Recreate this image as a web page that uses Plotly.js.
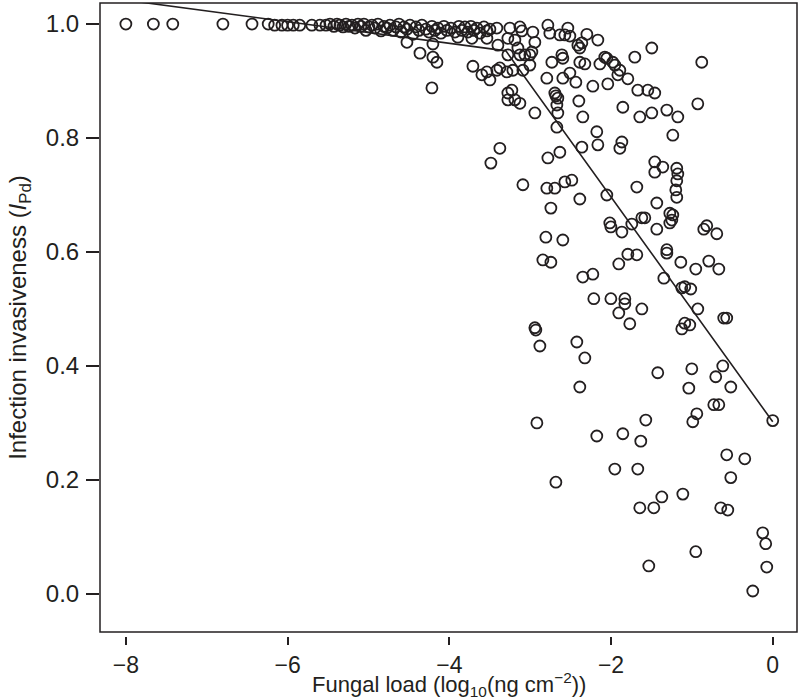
<!DOCTYPE html>
<html>
<head>
<meta charset="utf-8">
<script src="https://cdn.plot.ly/plotly-3.0.1.min.js"></script>
<style>
  body { margin: 0; background: white; }
  #the_plot { width: 800px; height: 700px; }
</style>
</head>
<body>
<div id="the_plot"></div>
<script>
window.addEventListener("load", setup);

// Fungal load (log10 ng cm-2) and invasiveness
var fungalLoad = [
  -8.00, -7.66, -7.42, -6.80, -6.44, -6.24, -6.16, -6.07, -6.00, -5.93, -5.85, -5.70, -5.60,
  -5.525, -5.476, -5.427, -5.389, -5.352, -5.315, -5.278, -5.241, -5.204, -5.167, -5.130, -5.093,
  -5.056, -5.031, -4.994, -4.957, -4.920, -4.883, -4.845, -4.808, -4.771, -4.734, -4.697, -4.660,
  -4.623, -4.598, -4.561, -4.524, -4.487, -4.450, -4.413, -4.376, -4.339, -4.290, -4.252, -4.215,
  -4.178, -4.141, -4.104, -4.067, -4.030, -3.980, -3.931, -3.881, -3.844, -3.807, -3.770, -3.733,
  -3.696, -3.659, -3.622, -3.572, -3.535, -3.498,
  -4.524, -4.363, -4.203, -4.203, -4.153, -4.215, -3.894, -3.721, -3.535, -3.399, -3.708, -3.597,
  -3.535, -3.498, -3.412, -3.375, -3.288, -3.214, -3.090, -3.276, -3.226, -3.276, -3.189, -3.127,
  -2.942,
  -3.412, -3.251, -3.127, -3.103, -3.276, -3.189, -3.152, -3.276, -3.127, -3.066, -3.004, -2.967,
  -2.942, -2.979, -3.004, -2.781, -2.757, -2.633, -2.571, -2.534, -2.509, -2.410, -2.386, -2.361,
  -2.299, -2.163, -2.732, -2.608, -2.596, -2.386, -2.324, -2.138, -2.077, -2.052, -1.978, -1.953,
  -1.891, -1.916, -1.792, -1.706, -1.496, -2.794, -2.596, -2.509, -2.435, -2.225, -2.040, -2.695,
  -2.682, -2.658, -2.670, -2.398, -1.854, -1.669, -1.545, -1.459, -2.658, -2.349, -1.644, -1.496,
  -1.310, -1.174, -0.927, -0.878, -2.670, -1.236, -2.176, -2.163, -2.361, -1.866, -1.891, -3.375,
  -3.486, -2.633, -2.781, -1.459, -1.360, -1.459, -1.187, -1.174, -1.187, -1.199, -1.187, -3.090,
  -2.794, -2.695, -2.571, -2.485, -1.681, -2.052, -2.386, -1.434, -2.744, -1.273, -1.236, -1.248,
  -1.273, -2.015, -2.002, -1.743, -1.619, -1.582, -1.866, -1.434, -0.853, -0.816, -0.692, -2.806,
  -2.596, -1.310, -1.310, -1.792, -1.681, -1.904, -1.137, -0.952, -0.791, -0.667, -2.843, -2.744,
  -2.349, -2.225, -1.347, -1.125, -1.088, -1.014, -2.213, -2.002, -1.829, -1.829, -1.904, -1.619,
  -0.927, -1.768, -0.606, -0.569, -1.088, -1.026, -1.125, -2.942, -2.930, -2.880, -2.423, -2.324,
  -1.422, -1.001, -0.618, -0.705, -2.386, -1.038, -0.519, -0.729, -0.667, -0.939, -0.989, 0.000,
  -2.917, -2.176, -1.854, -1.632, -1.570, -1.953, -1.669, -2.682, -0.569, -0.346, -0.519, -1.112,
  -1.372, -1.471, -1.644, -0.643, -0.556, -0.124, -0.087, -0.952, -1.533, -0.074, -0.247
];
var invasiveness = [
  1.000, 1.000, 1.000, 1.000, 1.000, 1.000, 0.998, 0.998, 0.998, 0.998, 0.998, 0.998, 0.998,
  0.998, 1.000, 0.996, 1.000, 0.998, 0.995, 1.000, 0.996, 0.998, 0.993, 1.000, 0.996,
  1.000, 0.989, 0.995, 0.998, 0.993, 1.000, 0.988, 0.996, 0.993, 0.998, 0.989, 0.995,
  1.000, 0.986, 0.995, 0.991, 0.998, 0.982, 0.995, 0.989, 0.998, 0.991, 0.986, 0.996,
  0.989, 0.993, 0.984, 0.996, 0.989, 0.993, 0.986, 0.996, 0.989, 0.995, 0.986, 0.996,
  0.989, 0.993, 0.984, 0.995, 0.988, 0.991,
  0.968, 0.949, 0.965, 0.942, 0.933, 0.888, 0.977, 0.975, 0.975, 0.963, 0.926, 0.911,
  0.916, 0.902, 0.919, 0.923, 0.916, 0.919, 0.919, 0.879, 0.884, 0.867, 0.867, 0.861,
  0.844,
  0.993, 0.993, 0.995, 0.988, 0.975, 0.972, 0.958, 0.946, 0.946, 0.946, 0.946, 0.986,
  0.968, 0.951, 0.928, 0.998, 0.984, 0.981, 0.981, 0.993, 0.979, 0.963, 0.958, 0.967,
  0.982, 0.972, 0.933, 0.946, 0.940, 0.933, 0.930, 0.930, 0.942, 0.940, 0.933, 0.928,
  0.919, 0.911, 0.904, 0.942, 0.958, 0.905, 0.905, 0.914, 0.898, 0.891, 0.895, 0.879,
  0.874, 0.870, 0.858, 0.865, 0.854, 0.884, 0.884, 0.879, 0.844, 0.837, 0.837, 0.844,
  0.849, 0.837, 0.860, 0.933, 0.819, 0.805, 0.811, 0.788, 0.784, 0.793, 0.782, 0.782,
  0.756, 0.775, 0.765, 0.758, 0.749, 0.740, 0.747, 0.737, 0.725, 0.709, 0.696, 0.718,
  0.712, 0.712, 0.723, 0.726, 0.714, 0.700, 0.693, 0.686, 0.677, 0.668, 0.665, 0.656,
  0.651, 0.651, 0.644, 0.649, 0.660, 0.660, 0.635, 0.640, 0.640, 0.646, 0.632, 0.626,
  0.621, 0.604, 0.598, 0.596, 0.595, 0.579, 0.582, 0.570, 0.584, 0.570, 0.586, 0.582,
  0.556, 0.561, 0.554, 0.537, 0.539, 0.535, 0.518, 0.518, 0.518, 0.509, 0.493, 0.500,
  0.500, 0.474, 0.484, 0.484, 0.475, 0.472, 0.465, 0.467, 0.463, 0.435, 0.442, 0.414,
  0.388, 0.395, 0.400, 0.381, 0.363, 0.361, 0.363, 0.332, 0.332, 0.316, 0.302, 0.304,
  0.300, 0.277, 0.281, 0.268, 0.305, 0.219, 0.219, 0.196, 0.244, 0.237, 0.204, 0.175,
  0.170, 0.151, 0.151, 0.151, 0.147, 0.107, 0.088, 0.074, 0.049, 0.047, 0.005
];

// broken-stick fit: two segments
var fitLoad = [-8.0, -3.3, 0.0];
var fitInvasiveness = [1.042, 0.953, 0.302];

var xTicks = [-8, -6, -4, -2, 0];
var yTicks = [0.0, 0.2, 0.4, 0.6, 0.8, 1.0];

var ink = "#231f20";
var fontFamily = "'Liberation Sans', Arial, sans-serif";

function setup() {
    setup_plot();
}

function setup_plot() {
    var points = {
        x: fungalLoad, y: invasiveness, mode: "markers", type: "scatter",
        marker: {symbol: "circle-open", size: 11, color: ink, line: {width: 1.8, color: ink}}
    };
    var fit = {
        x: fitLoad, y: fitInvasiveness, mode: "lines", type: "scatter",
        line: {color: ink, width: 1.6}
    };
    var bottom = 4 / 633;
    var layout = {
        width: 800, height: 700,
        margin: {l: 100, r: 3, t: 3, b: 64},
        paper_bgcolor: "white", plot_bgcolor: "white",
        showlegend: false,
        font: {family: fontFamily, size: 24, color: ink},
        xaxis: {
            range: [-8.32, 0.30], tickvals: xTicks,
            ticks: "outside", ticklen: 8, tickwidth: 1.5, tickcolor: ink,
            tickfont: {family: fontFamily, size: 23, color: ink},
            showgrid: false, zeroline: false, showline: false,
            anchor: "free", position: 0
        },
        yaxis: {
            domain: [bottom, 1], range: [-0.067, 1.037], tickvals: yTicks, tickformat: ".1f",
            ticks: "outside", ticklen: 13, tickwidth: 1.5, tickcolor: ink,
            tickfont: {family: fontFamily, size: 24, color: ink}, ticklabelstandoff: 2,
            showgrid: false, zeroline: false, showline: false,
            title: {text: "Infection invasiveness (<i>I</i><sub>Pd</sub>)", standoff: 12,
                    font: {family: fontFamily, size: 24, color: ink}}
        },
        // x title as an annotation so it can sit below the tick labels
        annotations: [{
            text: "Fungal load (log<sub>10</sub>(ng cm<sup>\u22122</sup>))",
            xref: "paper", yref: "paper", x: 0.5, y: 0,
            xanchor: "center", yanchor: "bottom", yshift: -66,
            showarrow: false, font: {family: fontFamily, size: 22, color: ink}
        }],
        shapes: [{
            type: "rect", xref: "paper", yref: "paper",
            x0: 0, x1: 1, y0: bottom, y1: 1,
            line: {color: ink, width: 1.5}
        }]
    };
    Plotly.newPlot("the_plot", [points, fit], layout, {displayModeBar: false});
}
</script>
</body>
</html>
